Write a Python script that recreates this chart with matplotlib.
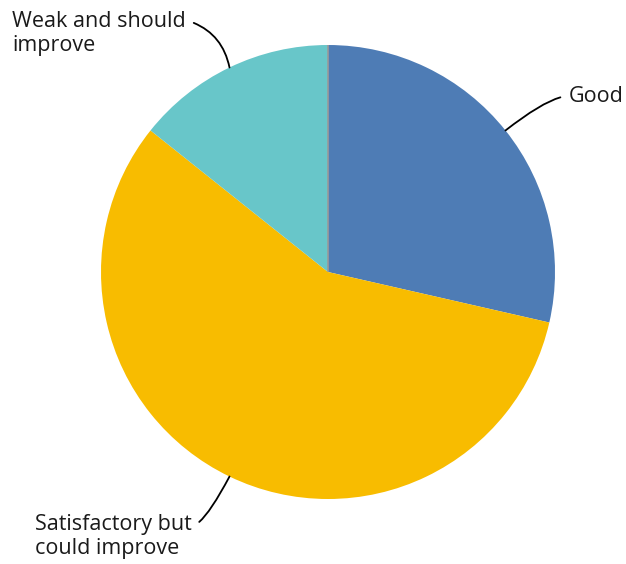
import numpy as np
import matplotlib
matplotlib.use('agg')
from matplotlib import pyplot as plt

labels = ['Good', 'Satisfactory but\ncould improve', 'Weak and should\nimprove', 'Poor']
counts = [2, 4, 1, 0]
colors = ['#4E7CB5', '#F8BC00', '#68C6C9', '#9A9A9A']

# where each label sits (data units, pie radius = 1) and how its leader bends
label_pos = [(1.06, 0.775), (-0.6, -1.165), (-1.392, 1.05)]
label_ha = ['left', 'right', 'left']
leader_style = ['angle3,angleA=0,angleB=38',
                'angle3,angleA=0,angleB=62',
                'arc3,rad=-0.3']
leader_relpos = [(0, 0.5), (1, 0.74), (1, 0.8)]

plt.rcParams['font.family'] = ['Open Sans', 'DejaVu Sans']

fig = plt.figure(figsize=(6.26, 5.64), dpi=100)
ax = fig.add_axes([0, 0, 1, 1])

wedges, _ = ax.pie(counts, colors=colors, startangle=90, counterclock=False,
                   radius=1, center=(0, 0))
for w, c in zip(wedges, counts):
    if c == 0:
        w.set_edgecolor(colors[3])
        w.set_linewidth(1.2)

for w, text, pos, ha, style, rp in zip(wedges, labels, label_pos, label_ha,
                                       leader_style, leader_relpos):
    mid = np.deg2rad((w.theta1 + w.theta2) / 2)
    xy = (np.cos(mid), np.sin(mid))
    ax.annotate(text, xy=xy, xytext=pos, ha=ha, va='center', fontsize=15.5,
                multialignment='left', color='#1a1a1a', linespacing=1.2,
                arrowprops=dict(arrowstyle='-', color='black', lw=1.3,
                                relpos=rp, shrinkA=4, shrinkB=0,
                                connectionstyle=style))

# 227 px per data unit, pie centre at (328, 272) px
ax.set_xlim(-328 / 227, (626 - 328) / 227)
ax.set_ylim(-(564 - 272) / 227, 272 / 227)
ax.set_aspect('auto')
ax.axis('off')

fig.savefig('out.png', dpi=100)
